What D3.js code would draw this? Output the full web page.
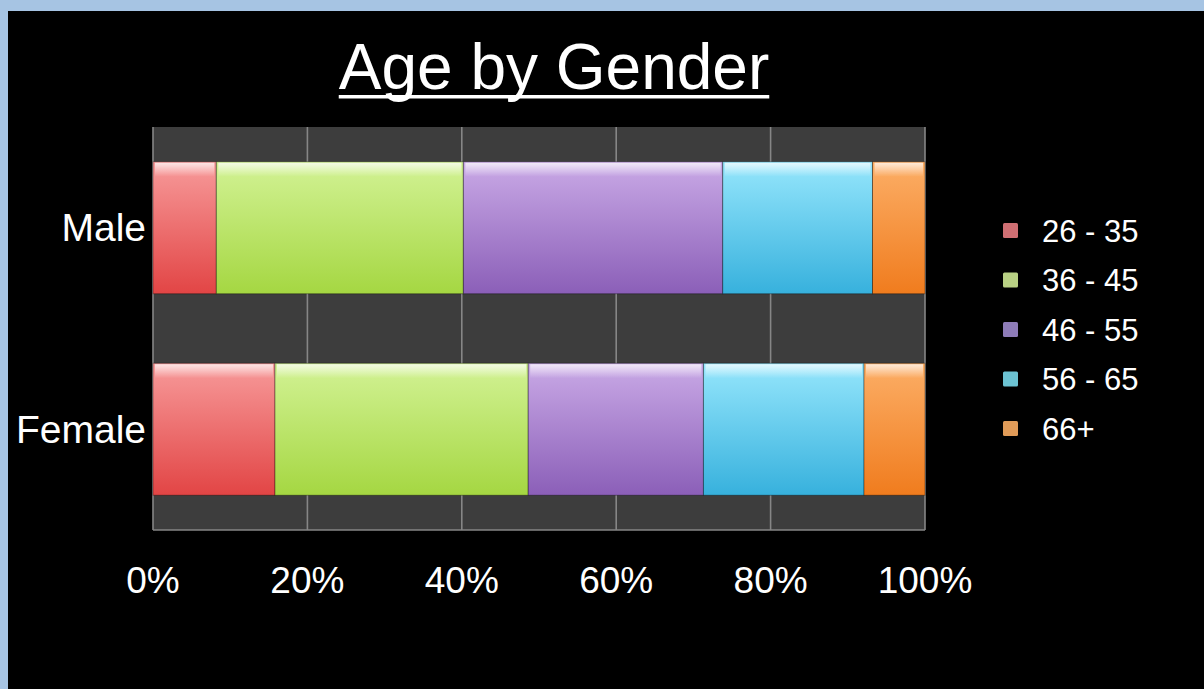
<!DOCTYPE html>
<html>
<head>
<meta charset="utf-8">
<script src="https://cdn.jsdelivr.net/npm/d3@7"></script>
<style>
  html, body { margin: 0; padding: 0; background: #a6c4e3; }
  svg { display: block; }
</style>
</head>
<body>
<svg id="chart" width="1204" height="689"></svg>
<script>
// ---- data ----
const categories = ["Male", "Female"];
const ageGroups = ["26 - 35", "36 - 45", "46 - 55", "56 - 65", "66+"];
const maleValues = [8.2, 32.0, 33.6, 19.4, 6.8];
const femaleValues = [15.8, 32.8, 22.7, 20.8, 7.9];
const tickValues = [0, 20, 40, 60, 80, 100];
const tickLabels = ["0%", "20%", "40%", "60%", "80%", "100%"];
const seriesColors = [
  ["#f79a9a", "#e24545"],
  ["#d2f294", "#a5d742"],
  ["#c9a9e6", "#8b5fb8"],
  ["#95e6fc", "#37b1dd"],
  ["#fcae66", "#f07c1e"]
];
const legendColors = ["#cf6f73", "#b9d184", "#8e7cb8", "#6cc3d3", "#e09b58"];

const valuesByCat = { "Male": maleValues, "Female": femaleValues };
const table = categories.map(c => {
  const row = { category: c };
  ageGroups.forEach((g, i) => row[g] = valuesByCat[c][i]);
  return row;
});

const svg = d3.select("#chart");
const font = "'Liberation Sans', Arial, Helvetica, sans-serif";

// panel
svg.append("rect").attr("x", 8).attr("y", 11).attr("width", 1196).attr("height", 678).attr("fill", "#000");

// gradients
const defs = svg.append("defs");
seriesColors.forEach((c, i) => {
  const g = defs.append("linearGradient").attr("id", "grad" + i)
    .attr("x1", 0).attr("y1", 0).attr("x2", 0).attr("y2", 1);
  g.append("stop").attr("offset", "0%").attr("stop-color", c[0]);
  g.append("stop").attr("offset", "100%").attr("stop-color", c[1]);
});
const hl = defs.append("linearGradient").attr("id", "hl").attr("x1", 0).attr("y1", 0).attr("x2", 0).attr("y2", 1);
hl.append("stop").attr("offset", "0%").attr("stop-color", "#fff").attr("stop-opacity", 0.75);
hl.append("stop").attr("offset", "100%").attr("stop-color", "#fff").attr("stop-opacity", 0);

// scales
const plotL = 153, plotR = 925, plotT = 127, plotB = 530;
const x = d3.scaleLinear().domain([0, 100]).range([plotL, plotR]);
const y = d3.scaleBand().domain(categories).range([plotT, plotB]).paddingInner(0.345).paddingOuter(0.1725);

// plot background
svg.append("rect").attr("x", plotL).attr("y", plotT).attr("width", plotR - plotL).attr("height", plotB - plotT)
  .attr("fill", "#3d3d3d");

// gridlines
svg.append("g").selectAll("line").data(tickValues).join("line")
  .attr("x1", d => x(d)).attr("x2", d => x(d))
  .attr("y1", plotT).attr("y2", plotB)
  .attr("stroke", "#868686").attr("stroke-width", 1.6);
svg.append("line").attr("x1", plotL).attr("x2", plotR).attr("y1", plotB).attr("y2", plotB)
  .attr("stroke", "#868686").attr("stroke-width", 1.6);

// stacked bars
const stack = d3.stack().keys(ageGroups);
const series = stack(table);
const bars = svg.append("g");
series.forEach((s, i) => {
  const g = bars.append("g");
  g.selectAll("rect.bar").data(s).join("rect").attr("class", "bar")
    .attr("x", d => x(d[0])).attr("width", d => x(d[1]) - x(d[0]))
    .attr("y", d => y(d.data.category)).attr("height", y.bandwidth())
    .attr("fill", `url(#grad${i})`)
    .attr("stroke", "rgba(0,0,0,0.35)").attr("stroke-width", 1);
  g.selectAll("rect.hl").data(s).join("rect").attr("class", "hl")
    .attr("x", d => x(d[0]) + 2).attr("width", d => Math.max(0, x(d[1]) - x(d[0]) - 4))
    .attr("y", d => y(d.data.category) + 1).attr("height", 14)
    .attr("fill", "url(#hl)");
});

// category labels
svg.append("g").selectAll("text").data(categories).join("text")
  .attr("x", 146).attr("y", d => y(d) + y.bandwidth() / 2)
  .attr("dy", "0.35em").attr("text-anchor", "end")
  .attr("fill", "#fff").attr("font-family", font).attr("font-size", 39)
  .text(d => d);

// x tick labels
svg.append("g").selectAll("text").data(tickValues).join("text")
  .attr("x", d => x(d)).attr("y", 593)
  .attr("text-anchor", "middle")
  .attr("fill", "#fff").attr("font-family", font).attr("font-size", 37)
  .text((d, i) => tickLabels[i]);

// title
const title = svg.append("text").attr("x", 554).attr("y", 89).attr("text-anchor", "middle")
  .attr("fill", "#fff").attr("font-family", font).attr("font-size", 64)
  .text("Age by Gender");
const bb = title.node().getBBox();
svg.append("rect").attr("x", bb.x).attr("y", 95).attr("width", bb.width).attr("height", 3.5).attr("fill", "#fff");

// legend
const legend = svg.append("g");
ageGroups.forEach((g, i) => {
  const yy = 231 + i * 49.5;
  legend.append("rect").attr("x", 1003).attr("y", yy - 8).attr("width", 15).attr("height", 15)
    .attr("fill", legendColors[i]).attr("rx", 1.5);
  legend.append("text").attr("x", 1042).attr("y", yy).attr("dy", "0.35em")
    .attr("fill", "#fff").attr("font-family", font).attr("font-size", 31)
    .text(g);
});
</script>
</body>
</html>
